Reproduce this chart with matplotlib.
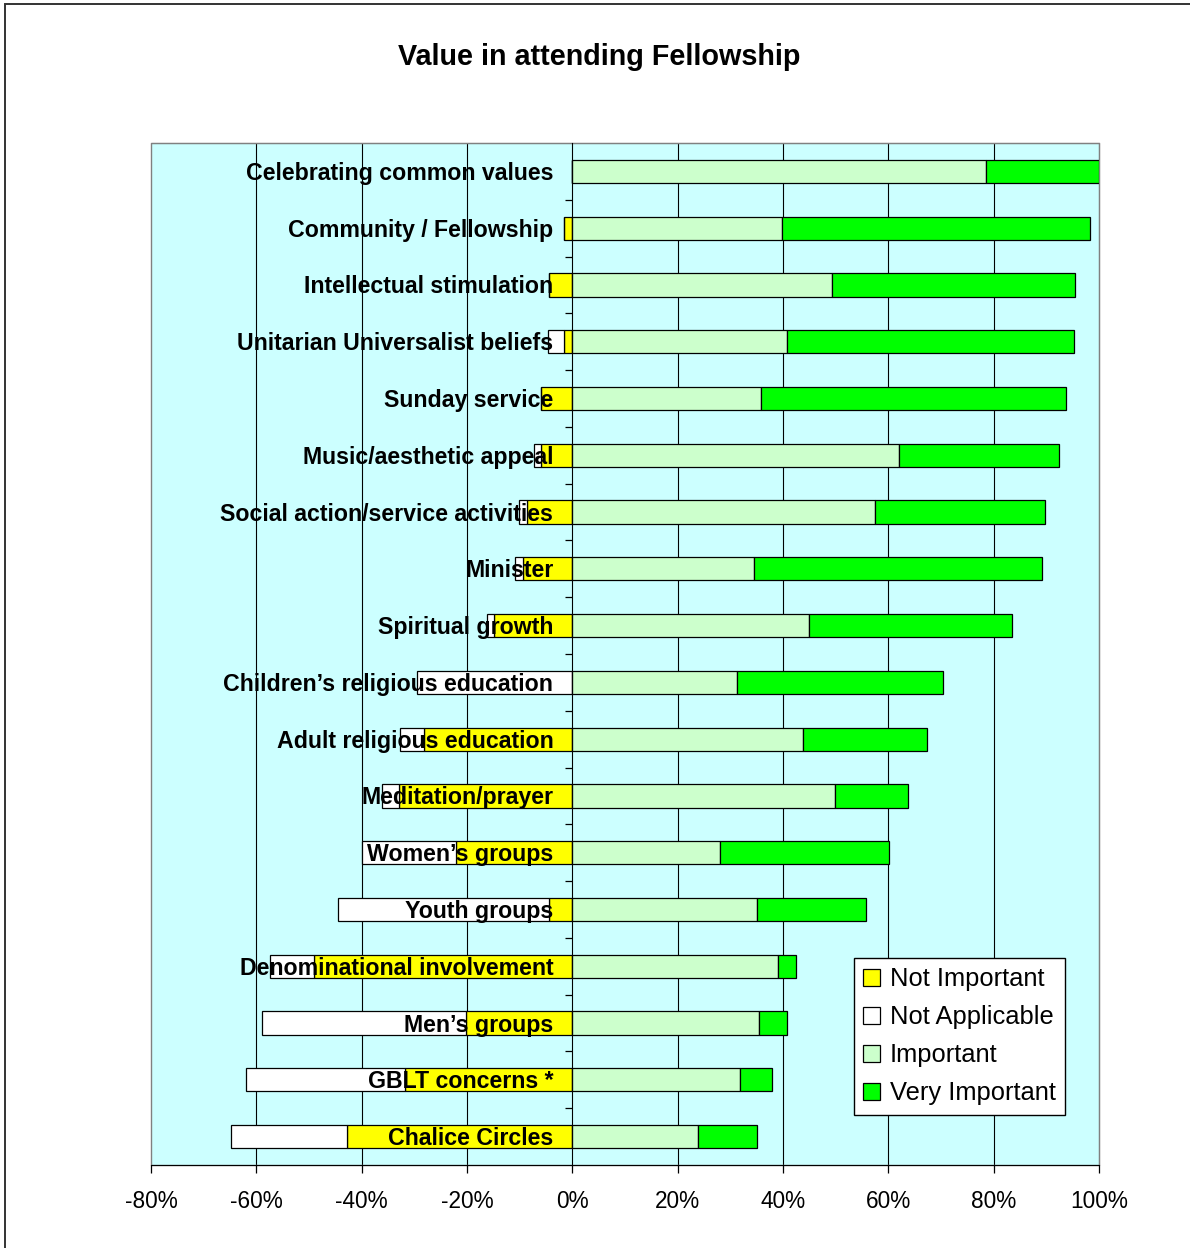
import matplotlib
matplotlib.use("Agg")
import matplotlib.pyplot as plt
from matplotlib.patches import Rectangle, Patch
from matplotlib.transforms import offset_copy
from matplotlib.ticker import FuncFormatter, FixedLocator
import numpy as np

plt.rcParams['font.family'] = ['Liberation Sans', 'DejaVu Sans']
plt.rcParams['axes.unicode_minus'] = False

categories = ["Celebrating common values", "Community / Fellowship", "Intellectual stimulation",
              "Unitarian Universalist beliefs", "Sunday service", "Music/aesthetic appeal",
              "Social action/service activities", "Minister", "Spiritual growth",
              "Children\u2019s religious education", "Adult religious education",
              "Meditation/prayer", "Women\u2019s groups", "Youth groups",
              "Denominational involvement", "Men\u2019s groups", "GBLT concerns *",
              "Chalice Circles"]
not_important = [0, 1.6, 4.4, 1.5, 5.9, 5.9, 8.7, 9.3, 14.8, 0, 28.1, 33.0, 22.0, 4.5, 49.1, 20.2, 31.7, 42.8]
not_applicable = [0, 0, 0, 3.1, 0, 1.4, 1.4, 1.65, 1.4, 29.5, 4.7, 3.1, 18.0, 39.9, 8.3, 38.8, 30.2, 22.1]
important = [78.6, 39.9, 49.3, 40.7, 35.8, 62.0, 57.4, 34.4, 44.9, 31.3, 43.8, 49.9, 28.1, 35.0, 39.1, 35.5, 31.8, 23.8]
very_important = [21.4, 58.4, 46.2, 54.5, 58.0, 30.4, 32.3, 54.7, 38.6, 39.1, 23.5, 13.8, 32.1, 20.7, 3.4, 5.3, 6.2, 11.2]
xticks = [-80, -60, -40, -20, 0, 20, 40, 60, 80, 100]

W, H = 1190, 1248
fig = plt.figure(figsize=(W / 100, H / 100), dpi=100)
ax = fig.add_axes([151 / W, 1 - 1165 / H, 948 / W, 1022 / H])
ax.set_facecolor('#CCFFFF')

# outer frame
fig.patches.append(Rectangle((5 / W, -0.1), 1.2, 1 - 4 / H + 0.1, transform=fig.transFigure,
                             fill=False, edgecolor='#333333', linewidth=1.4))

y = np.arange(len(categories))
ni = np.array(not_important)
na = np.array(not_applicable)
im = np.array(important)
vi = np.array(very_important)
h = 0.41
kw = dict(height=h, edgecolor='black', linewidth=0.9, zorder=2)
ax.barh(y, -ni, left=0, color='#FFFF00', **kw)
ax.barh(y, -na, left=-ni, color='#FFFFFF', **kw)
ax.barh(y, im, left=0, color='#CCFFCC', **kw)
ax.barh(y, vi, left=im, color='#00FF00', **kw)

for gx in [-60, -40, -20, 20, 40, 60, 80]:
    ax.axvline(gx, color='black', linewidth=0.8, zorder=0.5)

ax.set_xlim(-80, 100)
ax.set_ylim(len(categories) - 0.5, -0.5)

ax.set_xticks(xticks)
ax.xaxis.set_major_formatter(FuncFormatter(lambda v, p: f"{int(round(v))}%"))
ax.tick_params(axis='x', direction='out', length=6, width=0.9, labelsize=16.3, pad=12, color='black')

ax.spines['left'].set_position(('data', 0))
ax.spines['left'].set_color('black')
ax.spines['left'].set_zorder(3)
ax.spines['top'].set_color('#808080')
ax.spines['right'].set_color('#808080')
ax.spines['bottom'].set_color('black')
ax.set_yticks([])
ax.yaxis.set_minor_locator(FixedLocator(np.arange(0.5, len(categories) - 1, 1.0)))
ax.tick_params(axis='y', which='minor', direction='out', length=5, width=0.9, color='black')
ax.add_patch(Rectangle((0, 0), 1, 1, transform=ax.transAxes, fill=False,
                       edgecolor='#808080', linewidth=1.0, zorder=0.6, clip_on=False))

trans = offset_copy(ax.transData, fig=fig, x=-19, y=-2, units='dots')
for i, c in enumerate(categories):
    ax.text(0, i, c, transform=trans, ha='right', va='center', fontsize=16.7,
            fontweight='bold', zorder=5)

fig.text(599 / W, 1 - 57 / H, "Value in attending Fellowship", ha='center', va='center',
         fontsize=20.7, fontweight='bold')

handles = [Patch(facecolor='#FFFF00', edgecolor='black', linewidth=0.9),
           Patch(facecolor='#FFFFFF', edgecolor='black', linewidth=0.9),
           Patch(facecolor='#CCFFCC', edgecolor='black', linewidth=0.9),
           Patch(facecolor='#00FF00', edgecolor='black', linewidth=0.9)]
labels = ["Not Important", "Not Applicable", "Important", "Very Important"]
leg = ax.legend(handles, labels, loc='upper left', bbox_to_anchor=(854 / W, 1 - 958 / H),
                bbox_transform=fig.transFigure, borderaxespad=0, fontsize=18.4,
                handlelength=0.67, handleheight=0.67, handletextpad=0.38,
                labelspacing=0.55, borderpad=0.36, fancybox=False, framealpha=1)
leg.get_frame().set_edgecolor('black')
leg.get_frame().set_linewidth(1.0)
leg.set_zorder(6)

fig.savefig("out.png", dpi=100)
